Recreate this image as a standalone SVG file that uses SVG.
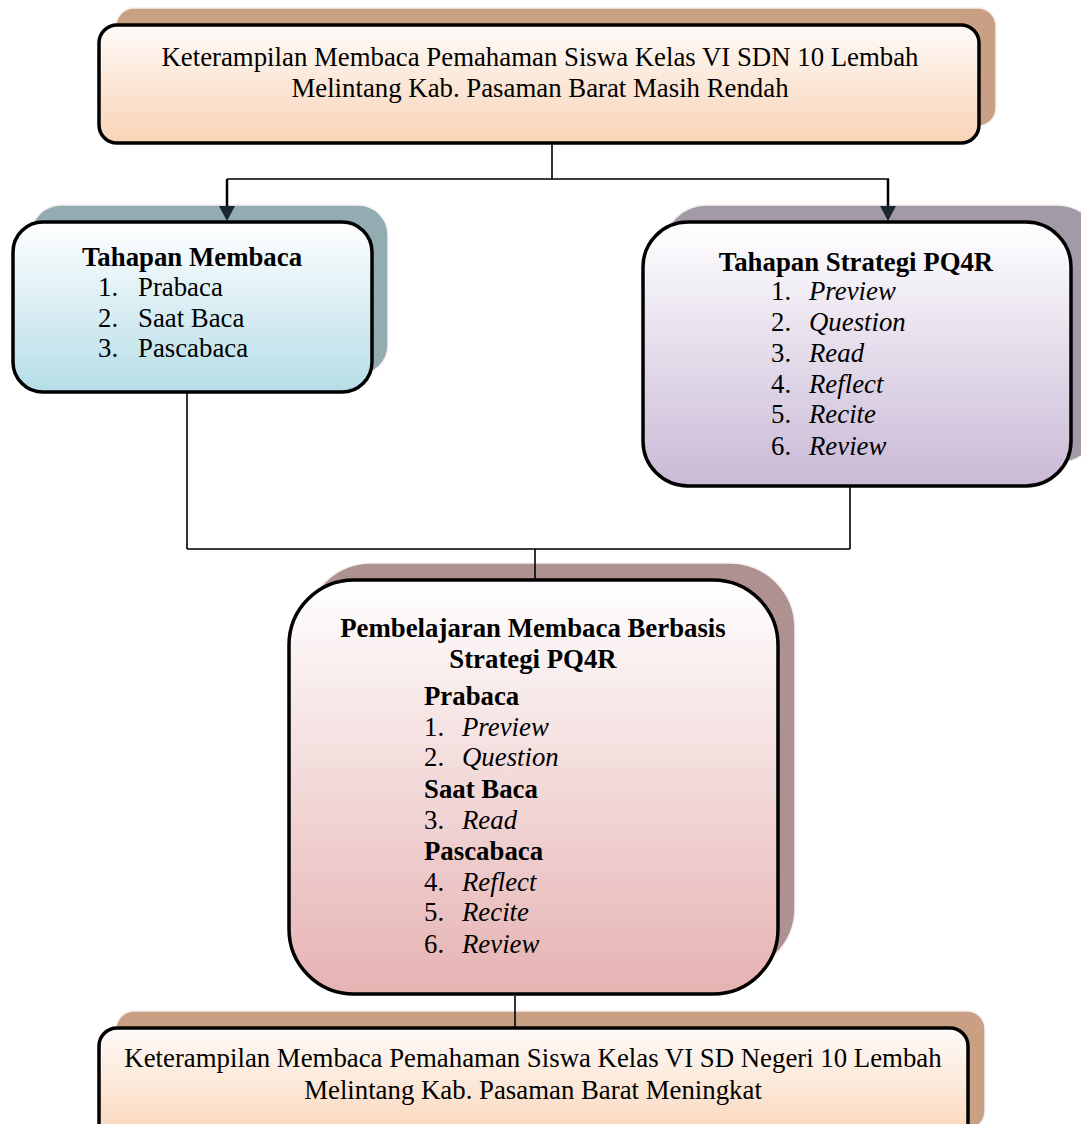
<svg xmlns="http://www.w3.org/2000/svg" width="1081" height="1124" viewBox="0 0 1081 1124">
<defs>
<linearGradient id="gPeach" x1="0" y1="0" x2="0" y2="1"><stop offset="0" stop-color="#fefbf9"/><stop offset="1" stop-color="#f9d3b5"/></linearGradient>
<linearGradient id="gBlue" x1="0" y1="0" x2="0" y2="1"><stop offset="0" stop-color="#ffffff"/><stop offset="1" stop-color="#b5dde7"/></linearGradient>
<linearGradient id="gPurple" x1="0" y1="0" x2="0" y2="1"><stop offset="0" stop-color="#ffffff"/><stop offset="1" stop-color="#c9b9d6"/></linearGradient>
<linearGradient id="gPink" x1="0" y1="0" x2="0" y2="1"><stop offset="0" stop-color="#ffffff"/><stop offset="1" stop-color="#e6b2b2"/></linearGradient>
</defs>
<style>
.box{stroke:#000;stroke-width:3.5}
.sh{stroke:#f4f0ee;stroke-width:1.5}
.t{font-family:"Liberation Serif","Times New Roman",serif;font-size:26.8px;fill:#000}
.b{font-weight:bold}
.i{font-style:italic}
.c{text-anchor:middle}
.ln{fill:none;stroke:#000;stroke-width:1.6}
.ah{fill:#1c2630}
</style>
<g id="node-top">
<rect class="sh" x="116" y="8" width="880" height="118" rx="18" fill="#c9a084"/>
<rect class="box" x="99" y="25" width="880" height="118" rx="18" fill="url(#gPeach)"/>
<text class="t c" x="540" y="66">Keterampilan Membaca Pemahaman Siswa Kelas VI SDN 10 Lembah</text>
<text class="t c" x="540" y="97">Melintang Kab. Pasaman Barat Masih Rendah</text>
</g>
<g id="node-left">
<rect class="sh" x="31" y="205" width="357" height="170" rx="30" fill="#92acb2"/>
<rect class="box" x="13" y="222" width="359" height="170" rx="30" fill="url(#gBlue)"/>
<text class="t b c" x="192" y="266">Tahapan Membaca</text>
<text class="t" x="98" y="296">1.</text><text class="t" x="138" y="296">Prabaca</text>
<text class="t" x="98" y="327">2.</text><text class="t" x="138" y="327">Saat Baca</text>
<text class="t" x="98" y="357">3.</text><text class="t" x="138" y="357">Pascabaca</text>
</g>
<g id="node-right">
<rect class="sh" x="662" y="205" width="440" height="258" rx="45" fill="#a39aa7"/>
<rect class="box" x="643" y="222" width="428" height="264" rx="45" fill="url(#gPurple)"/>
<text class="t b c" x="856" y="271">Tahapan Strategi PQ4R</text>
<text class="t" x="771" y="300">1.</text><text class="t i" x="809" y="300">Preview</text>
<text class="t" x="771" y="331">2.</text><text class="t i" x="809" y="331">Question</text>
<text class="t" x="771" y="362">3.</text><text class="t i" x="809" y="362">Read</text>
<text class="t" x="771" y="393">4.</text><text class="t i" x="809" y="393">Reflect</text>
<text class="t" x="771" y="423">5.</text><text class="t i" x="809" y="423">Recite</text>
<text class="t" x="771" y="455">6.</text><text class="t i" x="809" y="455">Review</text>
</g>
<g id="node-middle">
<rect class="sh" x="306" y="563" width="489" height="410" rx="65" fill="#b09191"/>
<rect class="box" x="289" y="580" width="489" height="414" rx="65" fill="url(#gPink)"/>
<text class="t b c" x="533" y="637">Pembelajaran Membaca Berbasis</text>
<text class="t b c" x="533" y="668">Strategi PQ4R</text>
<text class="t b" x="424" y="705">Prabaca</text>
<text class="t" x="424" y="736">1.</text><text class="t i" x="462" y="736">Preview</text>
<text class="t" x="424" y="766">2.</text><text class="t i" x="462" y="766">Question</text>
<text class="t b" x="424" y="798">Saat Baca</text>
<text class="t" x="424" y="829">3.</text><text class="t i" x="462" y="829">Read</text>
<text class="t b" x="424" y="860">Pascabaca</text>
<text class="t" x="424" y="891">4.</text><text class="t i" x="462" y="891">Reflect</text>
<text class="t" x="424" y="921">5.</text><text class="t i" x="462" y="921">Recite</text>
<text class="t" x="424" y="953">6.</text><text class="t i" x="462" y="953">Review</text>
</g>
<g id="node-bottom">
<rect class="sh" x="116" y="1011" width="869" height="118" rx="18" fill="#c9a084"/>
<rect class="box" x="99" y="1028" width="869" height="118" rx="18" fill="url(#gPeach)"/>
<text class="t c" x="533" y="1067">Keterampilan Membaca Pemahaman Siswa Kelas VI SD Negeri 10 Lembah</text>
<text class="t c" x="533" y="1099">Melintang Kab. Pasaman Barat Meningkat</text>
</g>
<g id="connectors">
<path class="ln" d="M552,143 V179 M227,179 H889"/>
<path class="ln" d="M227,179 V208" style="stroke-width:2.5"/>
<polygon class="ah" points="219,206 235,206 227,221"/>
<path class="ln" d="M888,179 V208" style="stroke-width:2.5"/>
<polygon class="ah" points="880,206 896,206 888,221"/>
<path class="ln" d="M187,392 V549 M850,487 V549 M187,549 H850 M535,549 V580"/>
<path class="ln" d="M515,996 V1028"/>
</g>
</svg>
